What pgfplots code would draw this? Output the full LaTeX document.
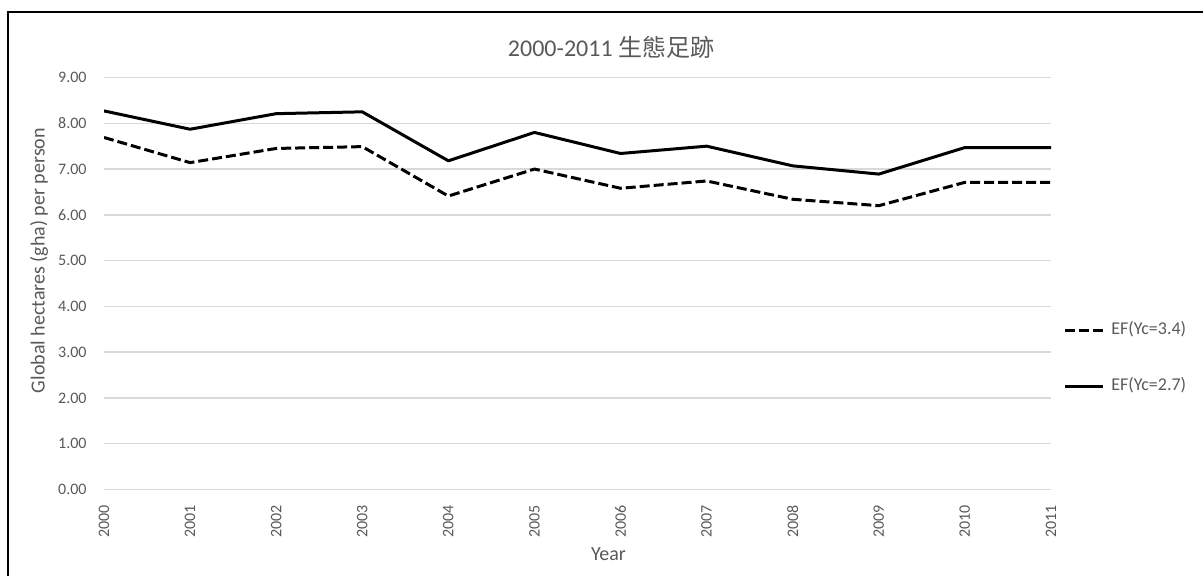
\documentclass[border=0pt]{standalone}
\usepackage{fontspec}
\setmainfont{Carlito}
\newfontfamily\cjk{Noto Sans CJK TC}
\usepackage{pgfplots}
\pgfplotsset{compat=1.18}
\definecolor{txtgray}{HTML}{595959}
\definecolor{gridgray}{HTML}{D9D9D9}

\begin{document}
\begin{tikzpicture}
\useasboundingbox (0,0) rectangle (601.5pt,288pt);
% chart frame
\draw[line width=1.25pt] (4pt,282pt) rectangle (620pt,-20pt);
\begin{axis}[
  at={(52pt,43.25pt)}, anchor=south west,
  scale only axis, width=473.5pt, height=206pt,
  xmin=2000, xmax=2011, ymin=0, ymax=9,
  axis line style={draw=none},
  major tick length=0pt,
  ymajorgrids, grid style={gridgray, line width=0.75pt},
  xtick={2000,...,2011}, ytick={0,...,9},
  /pgf/number format/assume math mode=true,
  xticklabel style={rotate=90, anchor=east, inner sep=0pt, color=txtgray,
    font=\fontsize{8pt}{9pt}\selectfont, /pgf/number format/1000 sep={}},
  xticklabel shift=7.75pt,
  yticklabel style={anchor=east, inner sep=0pt, color=txtgray,
    font=\fontsize{8pt}{9pt}\selectfont,
    /pgf/number format/.cd, fixed, fixed zerofill, precision=2},
  yticklabel shift=8.5pt,
  every axis y label/.style={at={(axis description cs:-0.0686,0.5556)}, rotate=90,
    anchor=center, color=txtgray, font=\fontsize{10pt}{12pt}\selectfont},
  every axis x label/.style={at={(axis description cs:0.5327,-0.1735)},
    anchor=base, color=txtgray, font=\fontsize{10pt}{12pt}\selectfont},
  every axis title/.style={at={(axis description cs:0.5354,1.050)},
    anchor=base, color=txtgray, font=\fontsize{12pt}{14pt}\selectfont},
  title={2000-2011 {\cjk 生態足跡}},
  xlabel={Year},
  ylabel={Global hectares (gha) per person},
  legend image code/.code={\draw[#1, line cap=butt] (0pt,0pt) -- (19pt,0pt);},
  legend style={at={(axis description cs:1.0127,0.319)}, anchor=west,
    draw=none, fill=none, inner sep=0pt, text=txtgray,
    font=\fontsize{9pt}{10pt}\selectfont,
    row sep=19.5pt, column sep=3.5pt,
    nodes={inner sep=0pt, text height=6.5pt, text depth=2pt}},
  legend cell align=left,
]
\addplot[black, line width=1.5pt, line join=round, line cap=butt,
  dash pattern=on 5pt off 2pt] coordinates {
  (2000,7.69) (2001,7.14) (2002,7.45) (2003,7.49) (2004,6.41) (2005,7.00)
  (2006,6.58) (2007,6.74) (2008,6.34) (2009,6.20) (2010,6.71) (2011,6.71)};
\addlegendentry{EF(Yc=3.4)}
\addplot[black, line width=1.5pt, line join=round] coordinates {
  (2000,8.27) (2001,7.87) (2002,8.21) (2003,8.25) (2004,7.18) (2005,7.80)
  (2006,7.34) (2007,7.50) (2008,7.07) (2009,6.89) (2010,7.47) (2011,7.47)};
\addlegendentry{EF(Yc=2.7)}
\end{axis}
\end{tikzpicture}
\end{document}
